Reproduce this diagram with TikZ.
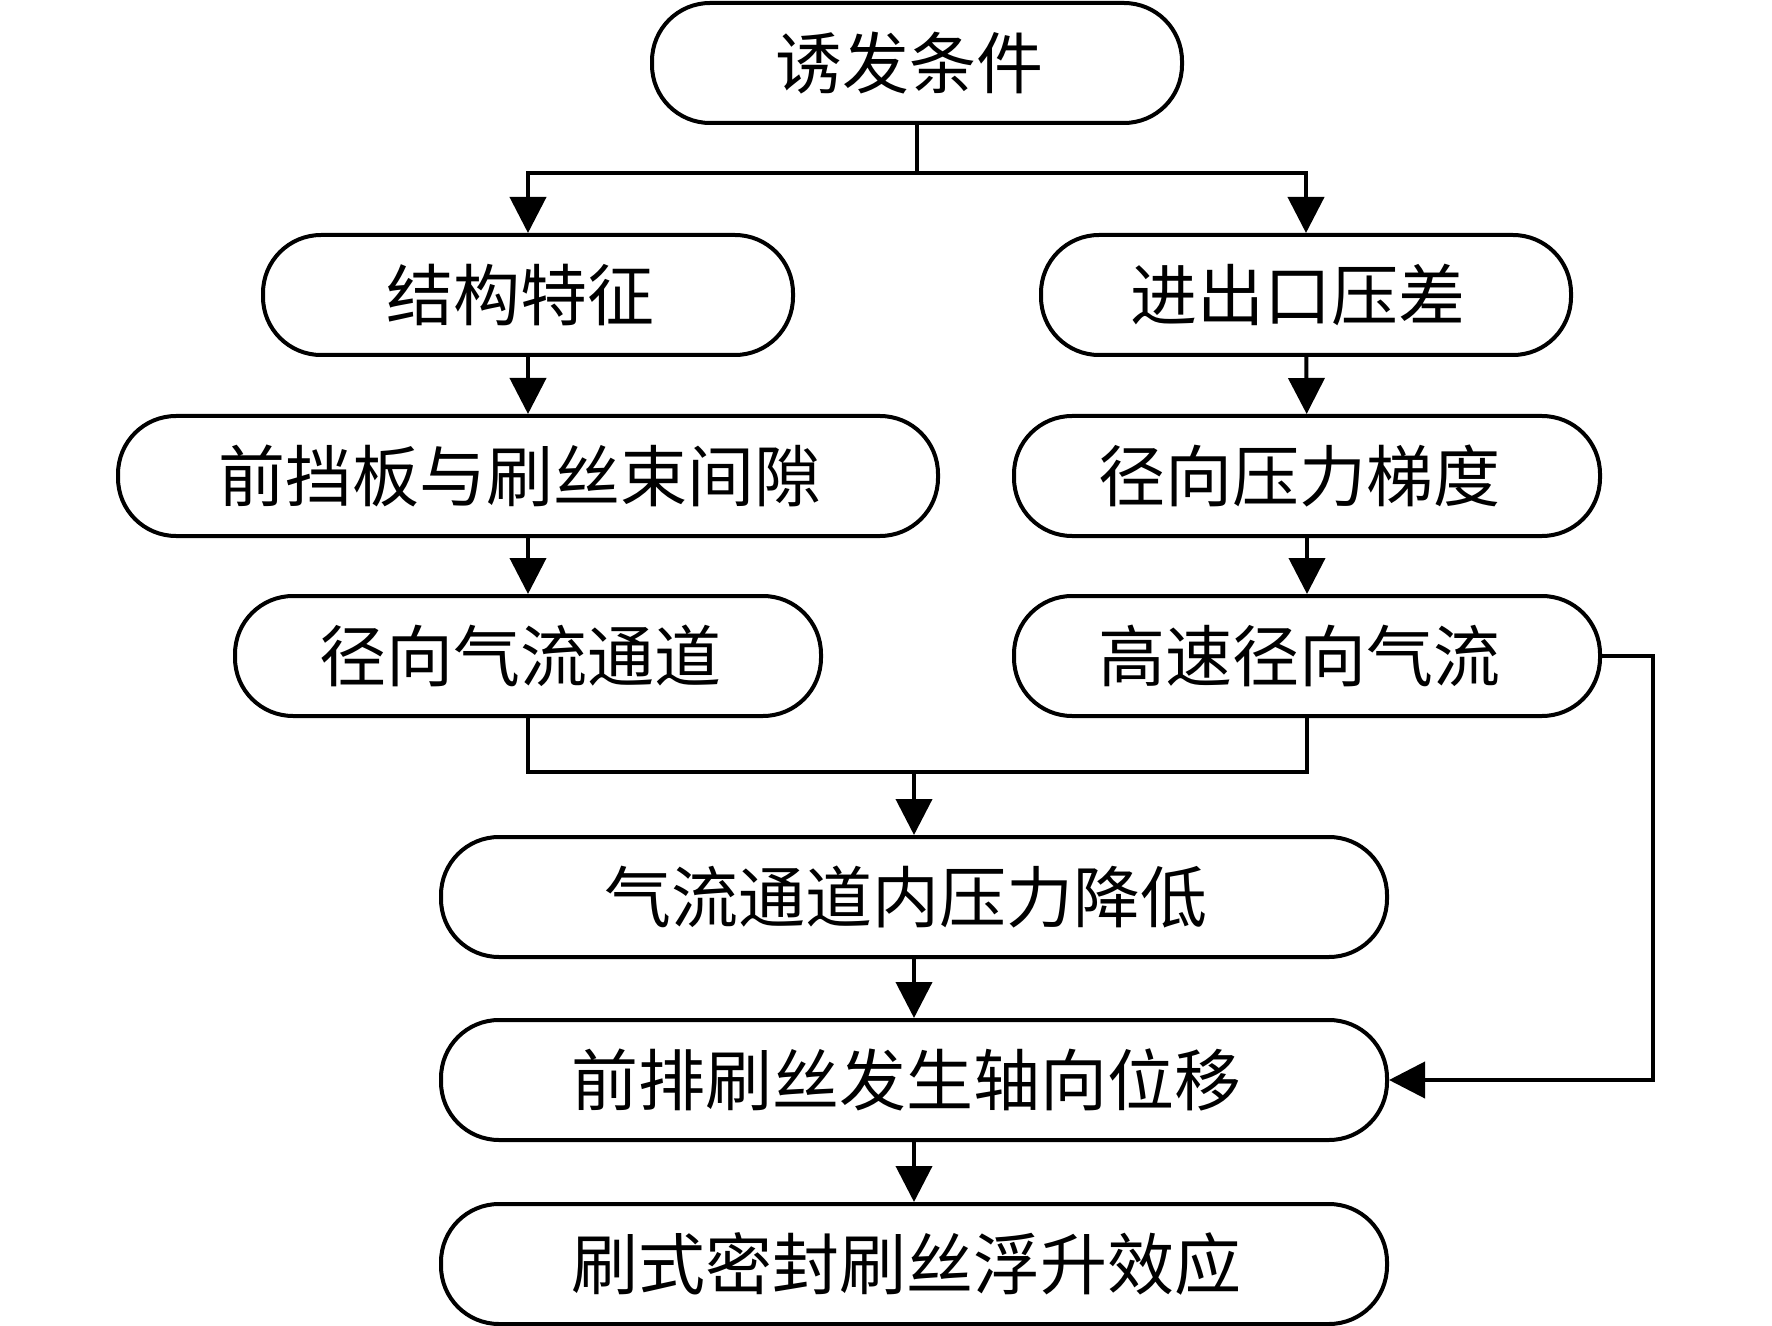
\documentclass[tikz,border=0pt]{standalone}
\usepackage{fontspec}
\newfontfamily\cjk{Noto Sans CJK SC}
\usetikzlibrary{arrows.meta}
\newcommand{\lsh}{\hspace{8pt}}
\tikzset{
  box/.style={draw=black, line width=2pt, rounded corners=29pt, minimum height=60pt,
    inner sep=0pt, align=center, font=\cjk\fontsize{33.5}{38}\selectfont, fill=white},
  conn/.style={line width=2pt},
  arr/.style={conn, -{Triangle[width=18pt,length=18pt]}}
}
\begin{document}
\begin{tikzpicture}[x=0.5pt,y=-0.5pt]
\useasboundingbox (0,0) rectangle (1772,1326);
\node[box, minimum width=265pt] (n1) at (917,63) {诱发条件\lsh};
\node[box, minimum width=265pt] (n2) at (528,295) {结构特征\lsh};
\node[box, minimum width=265pt] (n3) at (1306,295) {进出口压差\lsh};
\node[box, minimum width=410pt] (n4) at (528,476) {前挡板与刷丝束间隙\lsh};
\node[box, minimum width=293pt] (n5) at (1307,476) {径向压力梯度\lsh};
\node[box, minimum width=293pt] (n6) at (528,656) {径向气流通道\lsh};
\node[box, minimum width=293pt] (n7) at (1307,656) {高速径向气流\lsh};
\node[box, minimum width=473pt] (n8) at (914,897) {气流通道内压力降低\lsh};
\node[box, minimum width=473pt] (n9) at (914,1080) {前排刷丝发生轴向位移\lsh};
\node[box, minimum width=473pt] (n10) at (914,1264) {刷式密封刷丝浮升效应\lsh};
\coordinate (tj) at (917,173);
\coordinate (mj) at (914,772);
\coordinate (rx) at (1653,656);
\draw[conn] (n1.south) -- (tj);
\draw[arr] (tj) -| (n2.north);
\draw[arr] (tj) -| (n3.north);
\draw[arr] (n2) -- (n4);
\draw[arr] (n4) -- (n6);
\draw[arr] (n3) -- (n5);
\draw[arr] (n5) -- (n7);
\draw[conn] (n6.south) |- (mj);
\draw[conn] (n7.south) |- (mj);
\draw[arr] (mj) -- (n8.north);
\draw[arr] (n8) -- (n9);
\draw[arr] (n9) -- (n10);
\draw[arr] (n7.east) -- (rx) |- (n9.east);
\end{tikzpicture}
\end{document}
